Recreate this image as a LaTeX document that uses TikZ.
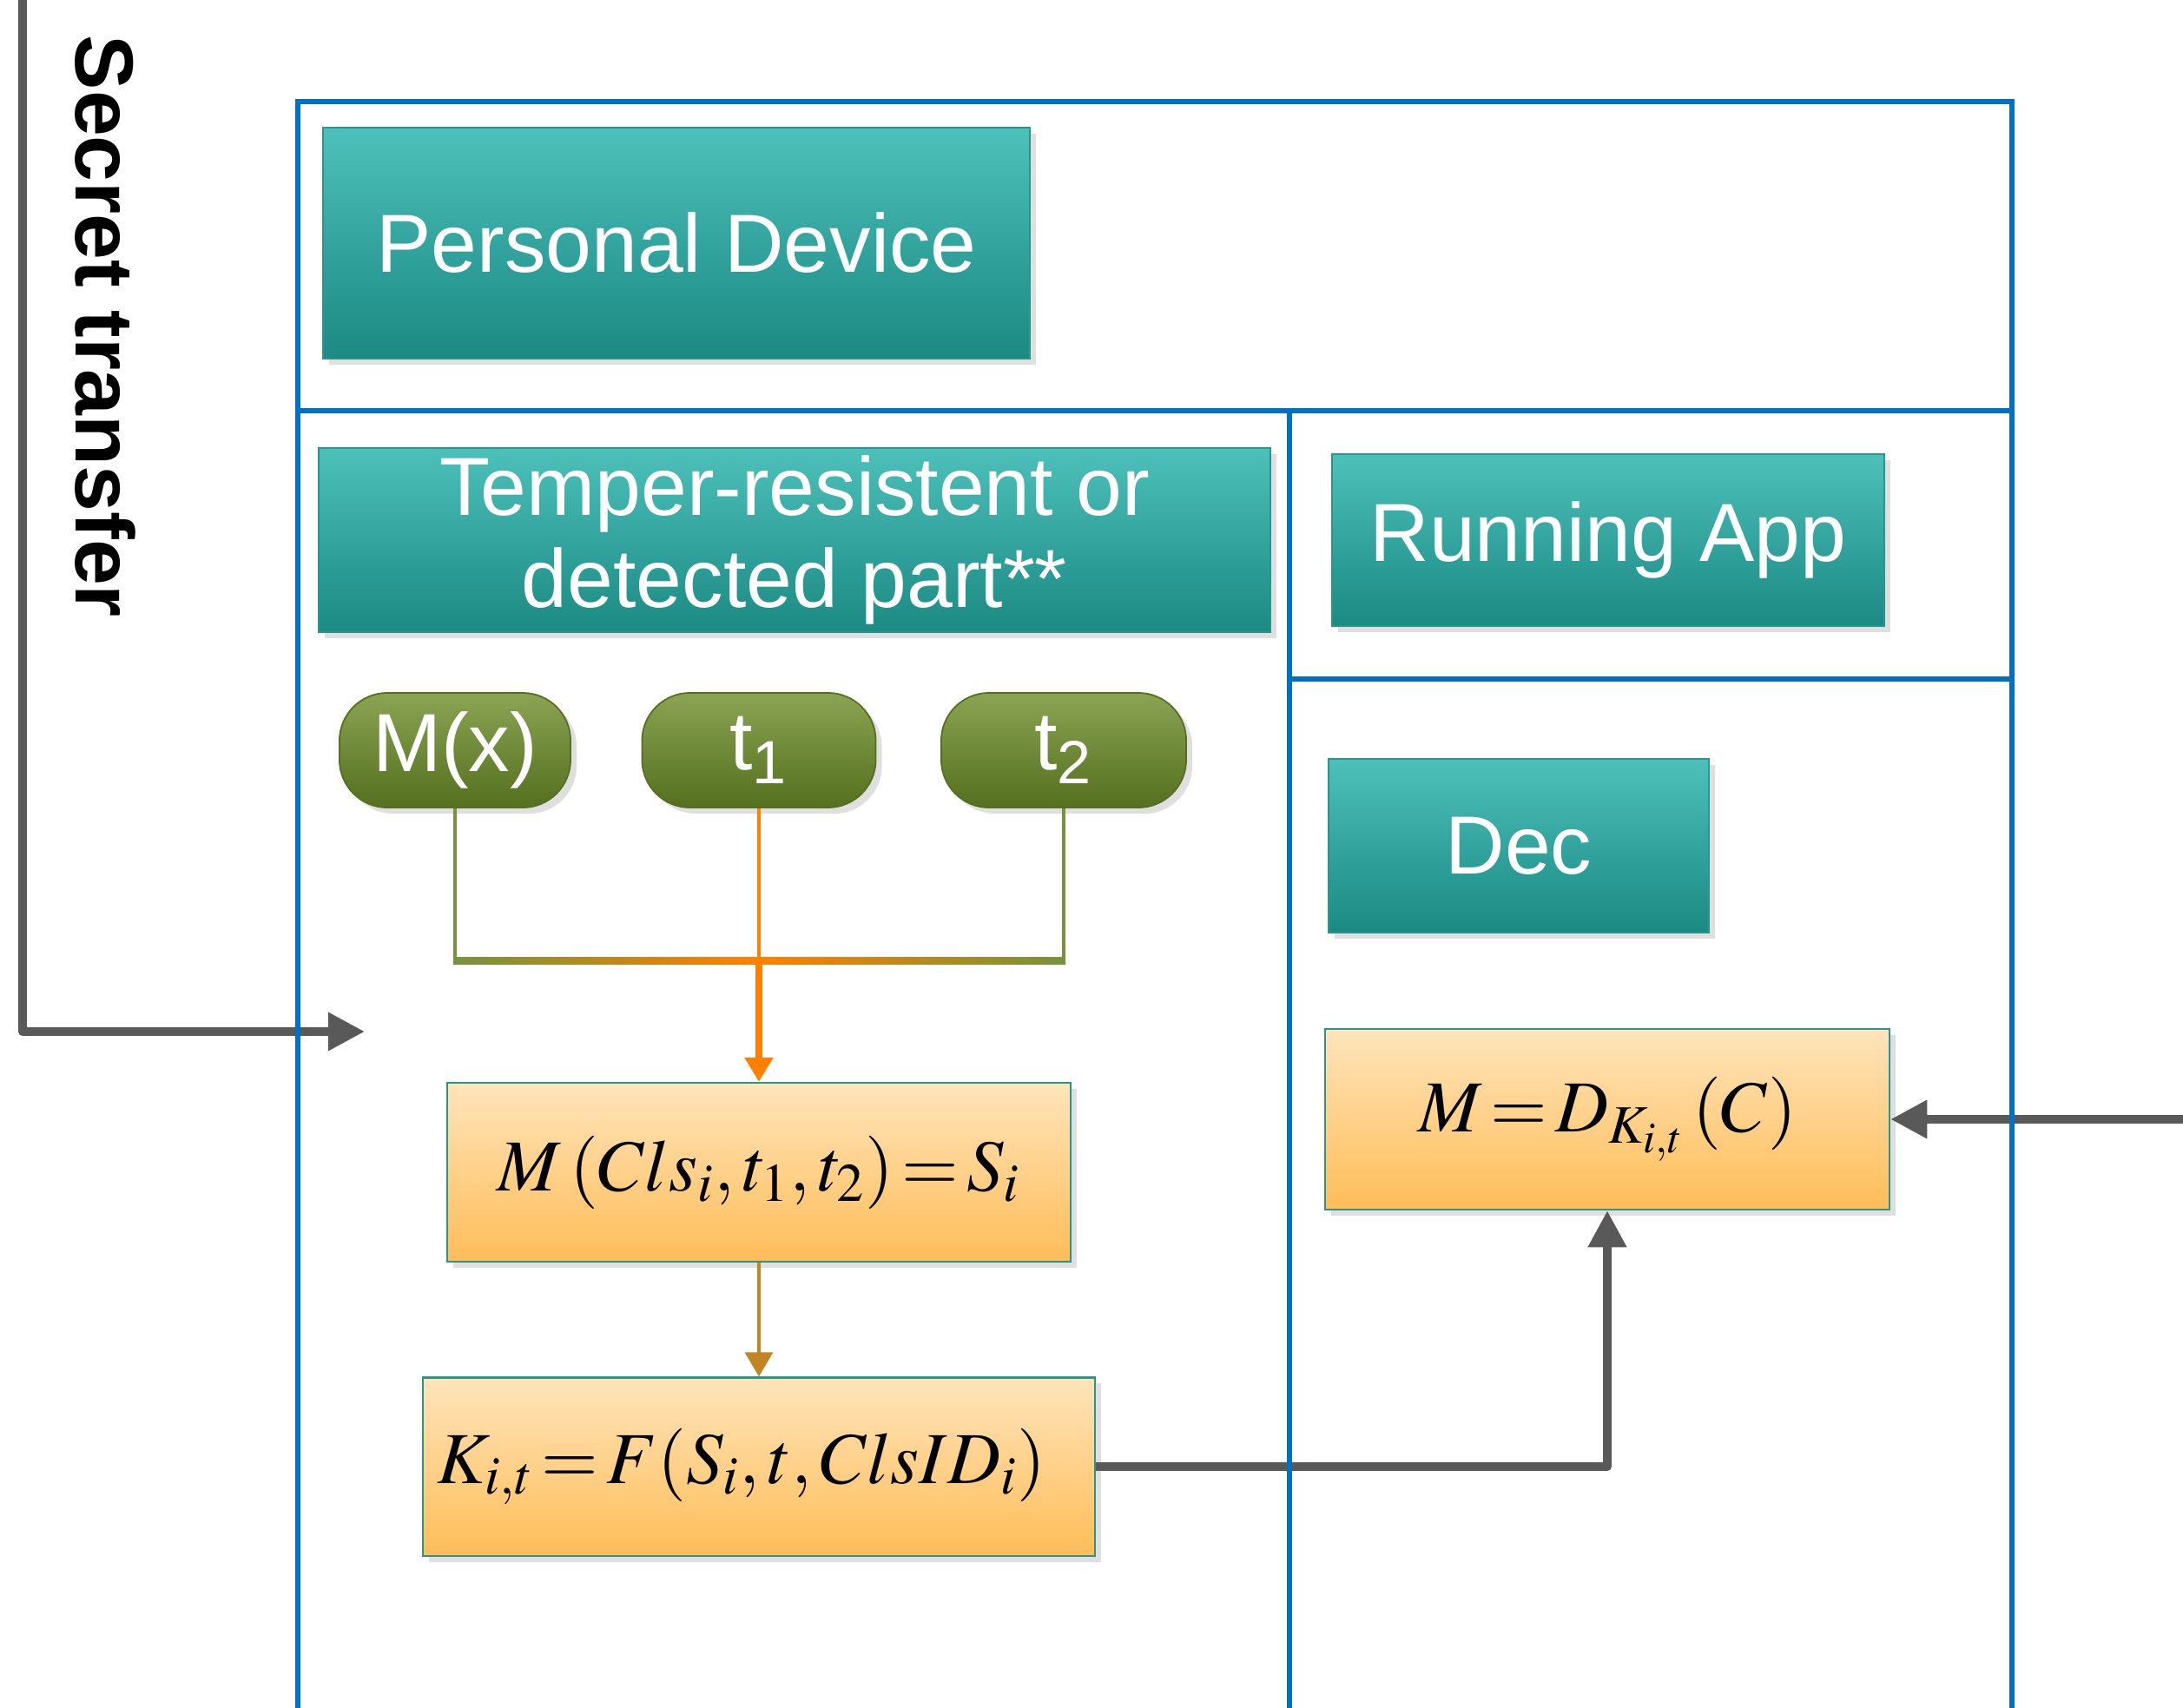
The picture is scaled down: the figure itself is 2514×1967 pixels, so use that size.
\documentclass[tikz,border=0pt]{standalone}
\usepackage{mathptmx}
\usepackage{fontspec}
\setmainfont{Liberation Sans}
\usetikzlibrary{
  arrows.meta,  % Triangle 箭头
  calc,         % 坐标计算
  shadows       % 方框阴影
}

\definecolor{frameblue}{RGB}{0,112,192}
\definecolor{tealtop}{RGB}{76,192,185}
\definecolor{tealbot}{RGB}{27,138,131}
\definecolor{tealedge}{RGB}{40,150,142}
\definecolor{olivetop}{RGB}{138,164,84}
\definecolor{olivebot}{RGB}{84,111,30}
\definecolor{peachtop}{RGB}{255,228,187}
\definecolor{peachbot}{RGB}{255,189,88}
\definecolor{connolive}{RGB}{118,146,60}
\definecolor{connorange}{RGB}{255,128,0}
\definecolor{connbrown}{RGB}{196,132,36}
\definecolor{arrowgray}{RGB}{89,89,89}

% 公式间距收紧
\newcommand{\eqspacing}{\thickmuskip 2mu\relax\medmuskip 1mu\relax}

\begin{document}
\begin{tikzpicture}[x=0.01cm, y=-0.01cm,
  softshadow/.style={drop shadow={opacity=0.25, shadow xshift=2pt, shadow yshift=-2pt}},
  tealbox/.style={shade, top color=tealtop, bottom color=tealbot, draw=tealedge,
    line width=0.6pt, text=white, align=center, inner sep=0pt, softshadow,
    font=\fontsize{27}{30}\selectfont},
  pillbox/.style={shade, top color=olivetop, bottom color=olivebot, draw=olivebot,
    line width=0.5pt, rounded corners=0.55cm, text=white, inner sep=0pt, softshadow,
    minimum height=1.32cm, font=\fontsize{27}{30}\selectfont},
  eqbox/.style={shade, top color=peachtop, bottom color=peachbot, draw=tealedge,
    line width=0.6pt, inner sep=0pt, softshadow,
    font=\fontsize{24}{28}\selectfont\eqspacing},
  frameline/.style={draw=frameblue, line width=1.7pt},
  grayarrow/.style={draw=arrowgray, line width=2.8pt, line join=round,
    -{Triangle[length=12pt, width=12pt]}}
]
  \useasboundingbox (0,0) rectangle (2514,1967);

  % =============== 左侧：秘密传输 ===============
  \node[rotate=-90, font=\fontsize{27}{30}\selectfont\bfseries] (secret) at (121,376) {Secret transfer};
  \coordinate (stop) at (26,0);
  \coordinate (sin) at (420,1188);
  \draw[grayarrow] (stop) |- (sin);

  % =============== 上方：个人设备 ===============
  \node[tealbox, minimum width=8.14cm, minimum height=2.65cm] (device) at (779,280) {Personal Device};

  % =============== 防篡改部分 ===============
  \node[tealbox, minimum width=10.95cm, minimum height=2.12cm] (tamper) at (915,622)
    {Temper-resistent or\\detected part**};

  \node[pillbox, minimum width=2.66cm] (mx) at (524,864) {M(x)};
  \node[pillbox, minimum width=2.69cm] (t1) at (874,864) {t\textsubscript{1}};
  \node[pillbox, minimum width=2.82cm] (t2) at (1225,864) {t\textsubscript{2}};

  \node[eqbox, minimum width=7.18cm, minimum height=2.06cm] (eqS) at (874,1350)
    {$M\,(Cls_{i},t_{1},t_{2})=S_{i}$};
  \node[eqbox, minimum width=7.73cm, minimum height=2.05cm] (eqK) at (874,1689)
    {\hspace*{-0.4cm}$K_{i,t}=F(S_{i},t,ClsID_{i})$};

  % 三个输入汇合（中间渐变为橙色）
  \coordinate (join) at (874,1106);
  \draw[connolive, line width=1.1pt] (mx.south) -- (mx.south |- join);
  \draw[connolive, line width=1.1pt] (t2.south) -- (t2.south |- join);
  \shade[left color=connolive, right color=connorange]
    ($(mx.south |- join)+(-2,-4)$) rectangle ($(join)+(0,4)$);
  \shade[left color=connorange, right color=connolive]
    ($(join)+(0,-4)$) rectangle ($(t2.south |- join)+(2,4)$);
  \draw[connorange, line width=1.1pt] (t1.south) -- (join);
  \draw[connorange, line width=2pt, -{Triangle[length=8pt, width=9pt]}] (join) -- (eqS.north);
  \draw[connbrown, line width=1.4pt, -{Triangle[length=8pt, width=9pt]}] (eqS.south) -- (eqK.north);

  % =============== 右侧：运行中的应用 ===============
  \node[tealbox, minimum width=6.35cm, minimum height=1.98cm] (runapp) at (1852,622) {Running App};
  \node[tealbox, minimum width=4.37cm, minimum height=1.99cm] (dec) at (1749,974) {Dec};
  \node[eqbox, minimum width=6.50cm, minimum height=2.08cm] (eqD) at (1851,1289)
    {$M=D_{K_{i,t}}\,(C)$};

  \draw[grayarrow] (eqK.east) -| (eqD.south);
  \coordinate (rin) at (2514,1289);
  \draw[grayarrow] (rin) -- (eqD.east);

  % =============== 蓝色外框 ===============
  \draw[frameline] (343,1967) -- (343,117) -- (2317,117) -- (2317,1967);
  \draw[frameline] (343,473) -- (2317,473);
  \draw[frameline] (1485,473) -- (1485,1967);
  \draw[frameline] (1485,782) -- (2317,782);

\end{tikzpicture}
\end{document}
